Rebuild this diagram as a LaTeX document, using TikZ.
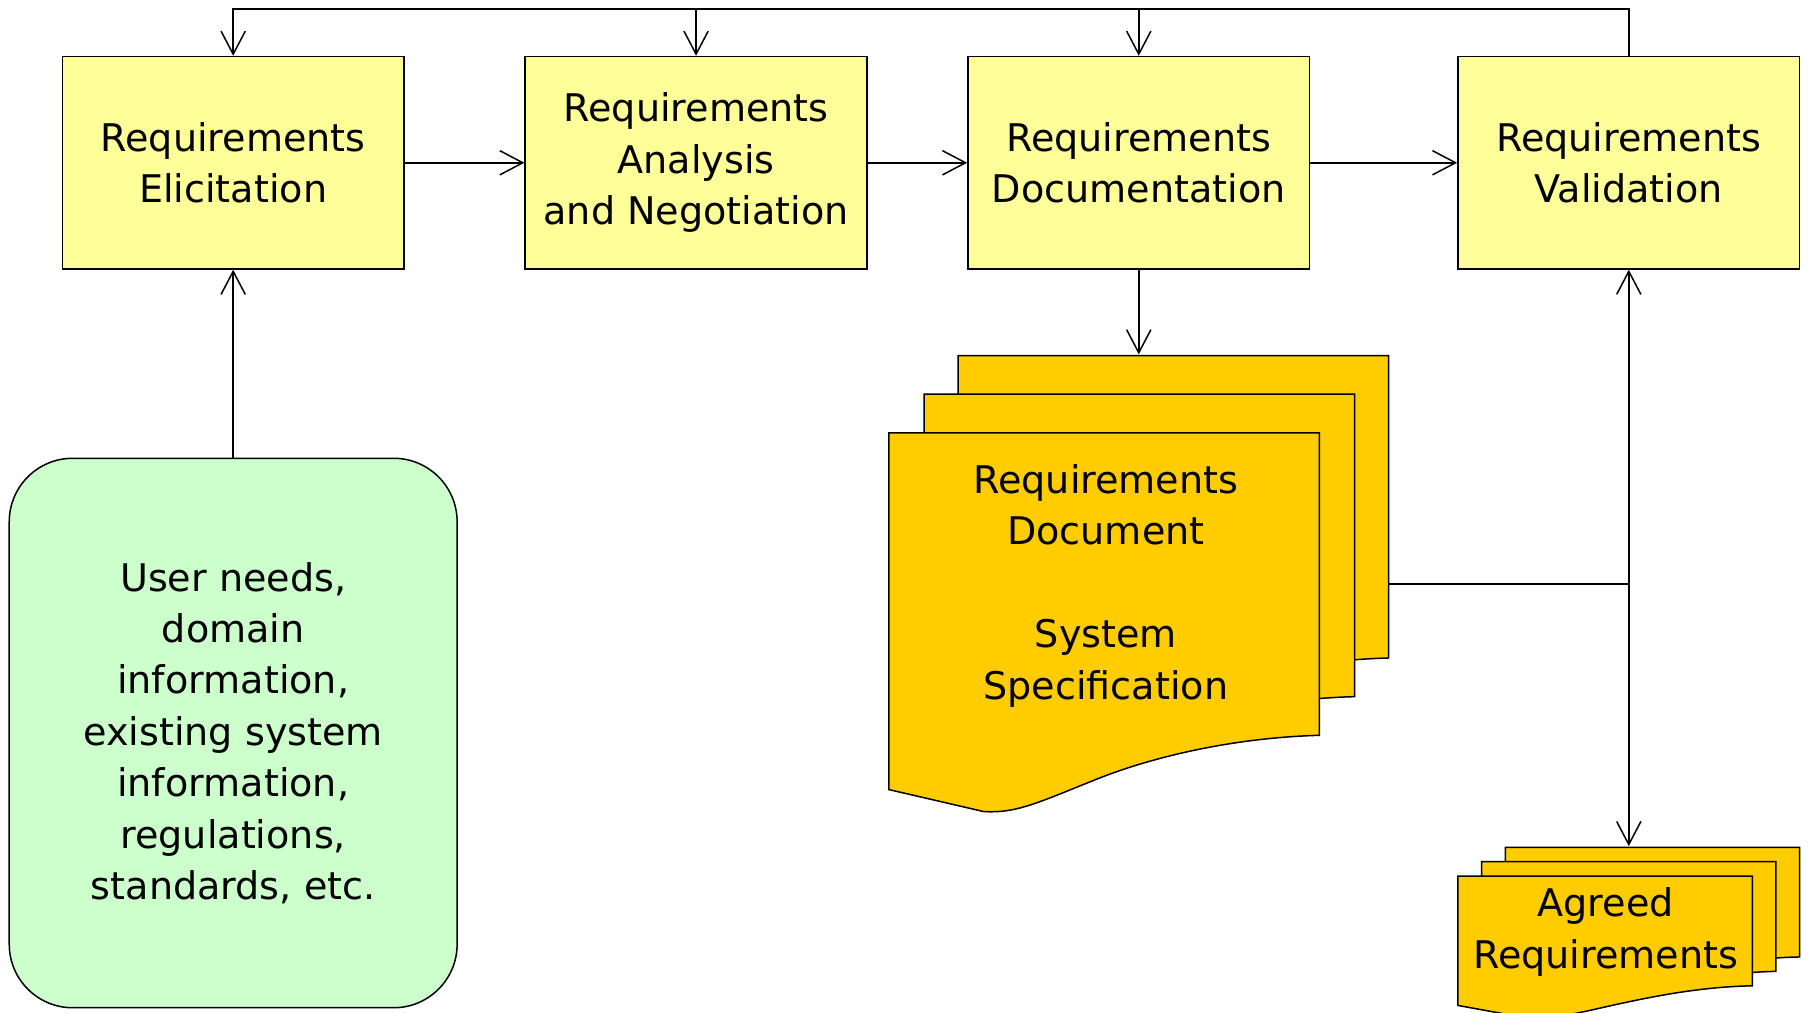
\documentclass[tikz,border=0pt]{standalone}
\usepackage{fontspec}
\setmainfont{DejaVu Sans}
\usetikzlibrary{arrows.meta}
\definecolor{boxyellow}{HTML}{FFFF99}
\definecolor{docgold}{HTML}{FFCC00}
\definecolor{srcgreen}{HTML}{CCFFCC}
\newcommand\DocSheet[2]{%
  \draw[sheet, shift={(#1,#2)}] (0,0) -- (373,0) -- (373,262)
    .. controls (300,264) and (230,280) .. (180,300)
    .. controls (130,320) and (110,330) .. (82,328) -- (0,309) -- cycle;}
\newcommand\AgrSheet[2]{%
  \draw[sheet, shift={(#1,#2)}] (0,0) -- (255,0) -- (255,95)
    .. controls (205,96) and (160,106) .. (120,115)
    .. controls (90,122) and (70,124) .. (55,122) -- (0,112) -- cycle;}
\begin{document}
\begin{tikzpicture}[x=1pt,y=-1pt, line width=1.3pt,
  txt/.style={font=\fontsize{33}{44.5}\selectfont, align=center},
  proc/.style={txt, draw, fill=boxyellow, minimum width=296pt, minimum height=184pt, inner sep=0pt},
  source/.style={txt, draw, fill=srcgreen, rounded corners=55pt, minimum width=388pt, minimum height=476pt, inner sep=0pt},
  sheet/.style={draw, fill=docgold, line width=1.3pt},
  arr/.style={-{Straight Barb[length=20pt,width=21pt,line width=1.3pt]}}]
\useasboundingbox (0,0) rectangle (1568,877);

% process boxes
\node[proc] (elic) at (202,141) {Requirements\\Elicitation};
\node[proc] (anal) at (603,141) {Requirements\\Analysis\\and Negotiation};
\node[proc] (docu) at (986.5,141) {Requirements\\Documentation};
\node[proc] (vali) at (1411,141) {Requirements\\Validation};

% source box
\node[source] (src) at (202,635) {User needs,\\domain\\information,\\existing system\\information,\\regulations,\\standards, etc.};

% requirements document stack
\DocSheet{830}{308}
\DocSheet{800.5}{341.5}
\DocSheet{770}{375}
\node[txt] (reqdoc) at (958,507.5) {Requirements\\Document\\[44.5pt]System\\Specification};
\coordinate (doctop) at (986.5,307);
\coordinate (docright) at (1203,506);

% agreed requirements stack
\AgrSheet{1304}{734}
\AgrSheet{1283.5}{746.5}
\AgrSheet{1263}{759}
\node[txt] (agreed) at (1391,807.5) {Agreed\\Requirements};
\coordinate (agrtop) at (1411,733);

% feedback loop along the top
\coordinate (fb) at (202,8);
\draw[arr] (vali.north) -- (vali.north |- fb) -- (fb) -- (elic.north);
\draw[arr] (anal.north |- fb) -- (anal.north);
\draw[arr] (docu.north |- fb) -- (docu.north);

% main flow
\draw[arr] (elic) -- (anal);
\draw[arr] (anal) -- (docu);
\draw[arr] (docu) -- (vali);
\draw[arr] (src.north) -- (elic.south);
\draw[arr] (docu.south) -- (doctop);

% document to validation / agreed requirements
\coordinate (jn) at (1411,506);
\draw (docright) -- (jn);
\draw[arr] (jn) -- (vali.south);
\draw[arr] (jn) -- (agrtop);
\end{tikzpicture}
\end{document}
